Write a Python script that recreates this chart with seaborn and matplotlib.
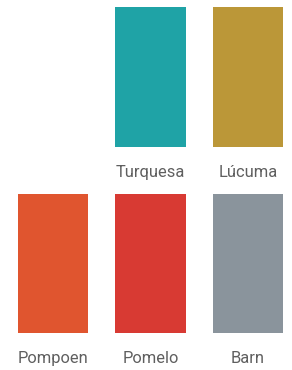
import matplotlib
matplotlib.use("Agg")
import matplotlib.pyplot as plt
import seaborn as sns
import pandas as pd

top_names = ["Turquesa", "Lúcuma"]
top_colors = ["#1FA3A6", "#BB9738"]
top_order = [" ", "Turquesa", "Lúcuma"]

bottom_names = ["Pompoen", "Pomelo", "Barn"]
bottom_colors = ["#E0552F", "#D83A33", "#8A949C"]
bottom_order = ["Pompoen", "Pomelo", "Barn"]

sns.set_theme(style="white")
plt.rcParams['font.family'] = ['Roboto', 'DejaVu Sans']

W, H, DPI = 292, 370, 72
fig = plt.figure(figsize=(W / DPI, H / DPI), dpi=DPI)

unit = 97.5
x0 = -53 / unit
x1 = (W - 53) / unit
bar_w = 70 / unit

def make_row(top_px, bot_px, names, colors, order):
    ax = fig.add_axes([0, 1 - bot_px / H, 1, (bot_px - top_px) / H])
    df = pd.DataFrame({"name": names, "value": [1.0] * len(names)})
    sns.barplot(data=df, x="name", y="value", hue="name", order=order,
                hue_order=names, palette=colors, width=bar_w,
                legend=False, ax=ax, saturation=1, linewidth=0)
    ax.set_xlim(x0, x1)
    ax.set_ylim(0, 1)
    ax.set_xlabel("")
    ax.set_ylabel("")
    ax.set_yticks([])
    ax.tick_params(axis="x", length=0, pad=18, labelsize=16.5, labelcolor="#5f5f5f")
    labels = [t if t.strip() else "" for t in order]
    ax.set_xticks(range(len(order)))
    ax.set_xticklabels(labels)
    for s in ax.spines.values():
        s.set_visible(False)
    ax.patch.set_alpha(0)
    return ax

make_row(7, 147, top_names, top_colors, top_order)
make_row(194, 333, bottom_names, bottom_colors, bottom_order)

fig.savefig("out.png", dpi=DPI, facecolor="white")
